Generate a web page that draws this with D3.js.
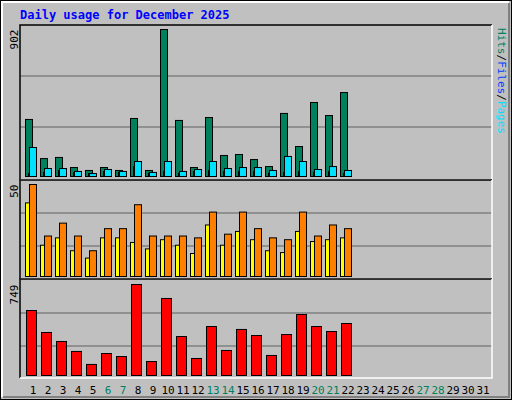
<!DOCTYPE html>
<html><head><meta charset="utf-8">
<script src="https://cdn.jsdelivr.net/npm/d3@7"></script>
<style>body{margin:0;background:#fff}text{font-family:"DejaVu Sans Mono",monospace}</style>
</head><body><svg id="chart" width="512" height="400"></svg>
<script>
const days = d3.range(1, 32);
const weekend = [6, 7, 13, 14, 20, 21, 27, 28];
const hits  = [350,110,117,55,37,55,37,356,37,902,344,55,362,129,135,104,61,387,184,454,374,515];
const files = [18,25,37,25,18,30,25,61,20,30,20,30,37,30,30,30,20,25,30,25,30,18];
const pages = [178,49,49,31,18,43,31,92,25,92,31,43,92,49,55,55,37,123,92,43,61,37];
const visits = [40,17,21,14,10,21,21,18.5,15,20,17,12.5,28,17,24.5,20,14,13,24.5,19,20,21];
const sites  = [50,22,29,22,14,26,26,39,22,22,22,21,35,23,35,26,21,20,35,22,28,26];
const kbytes = [535,354,280,198,91,181,156,749,115,634,321,140,403,206,379,329,165,337,502,403,362,428];

const svg = d3.select("#chart");
svg.append("rect").attr("x",0.5).attr("y",0.5).attr("width",511).attr("height",399).attr("fill","#c0c0c0").attr("stroke","#000");
svg.append("path").attr("d","M2,397V2H509").attr("stroke","#fff").attr("stroke-width",2).attr("fill","none");
svg.append("path").attr("d","M3,397H509V3").attr("stroke","#808080").attr("stroke-width",2).attr("fill","none");

svg.append("text").attr("x",20).attr("y",19).attr("fill","#0000ff").attr("font-size",12).attr("font-weight","bold").text("Daily usage for December 2025");

const x = d3.scaleBand().domain(days).range([25, 490]).paddingInner(0);
const L = 20, R = 492;

function panel(y0, y1, base, top, max, grids) {
  svg.append("rect").attr("x",L).attr("y",y0).attr("width",R-L).attr("height",y1-y0).attr("fill","#c0c0c0");
  grids.forEach(g => svg.append("line").attr("x1",L).attr("x2",R).attr("y1",g).attr("y2",g).attr("stroke","#808080").attr("stroke-width",1.5));
  svg.append("path").attr("d",`M${L},${y1}V${y0}H${R}`).attr("stroke","#000").attr("stroke-width",1.5).attr("fill","none");
  svg.append("path").attr("d",`M${L},${y1}H${R}V${y0}`).attr("stroke","#fff").attr("stroke-width",1.5).attr("fill","none");
  svg.append("text").attr("transform",`translate(18,${top}) rotate(-90)`).attr("text-anchor","end").attr("font-size",11).text(max);
  return d3.scaleLinear().domain([0, max]).range([base, top]);
}

function bars(data, y, off, w, fill) {
  svg.append("g").selectAll("rect").data(data).join("rect")
    .attr("x", (d, i) => x(i + 1) + off).attr("y", d => y(d))
    .attr("width", w).attr("height", d => y(0) - y(d))
    .attr("fill", fill).attr("stroke", "#000").attr("stroke-width", 1);
}

const y1 = panel(25, 180, 176.5, 29.5, 902, [76, 127]);
bars(hits, y1, 0.5, 7, "#00805c");
bars(files, y1, 3.5, 5, "#0040ff");
bars(pages, y1, 4.5, 7, "#00e0ff");

const y2 = panel(180, 279, 276.5, 184.5, 50, [213, 246]);
bars(visits, y2, 0.5, 7, "#ffff00");
bars(sites, y2, 4.5, 7, "#ff8000");

const y3 = panel(279, 378, 375.5, 284.5, 749, [313, 346]);
bars(kbytes, y3, 1.5, 10, "#ff0000");

svg.append("g").selectAll("text").data(days).join("text")
  .attr("x", d => x(d) + 8).attr("y", 394).attr("text-anchor","middle").attr("font-size",11)
  .attr("fill", d => weekend.includes(d) ? "#00805c" : "#000").text(d => d);

function sideLabel(yStart, parts) {
  const t = svg.append("text").attr("transform",`translate(497,${yStart}) rotate(90)`).attr("font-size",11).attr("text-anchor","end");
  parts.forEach(([s, c]) => t.append("tspan").attr("fill", c).text(s));
}
// text reads top-to-bottom, so the last part ends at the top anchor
function vlabel(yTop, parts) {
  const t = svg.append("text").attr("transform",`translate(498,${yTop}) rotate(90)`).attr("font-size",11).attr("text-anchor","start");
  parts.forEach(([s, c]) => t.append("tspan").attr("fill", c).text(s));
}
vlabel(28, [["Hits","#00805c"],["/","#000"],["Files","#0040ff"],["/","#000"],["Pages","#00e0ff"]].reverse().reverse());
</script>
</body></html>
